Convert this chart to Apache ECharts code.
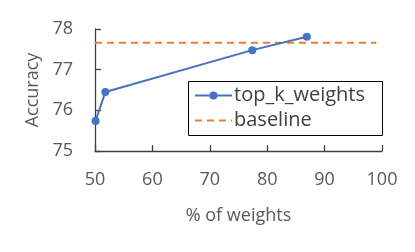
<!DOCTYPE html>
<html><head><meta charset="utf-8">
<script src="https://cdn.jsdelivr.net/npm/echarts@6/dist/echarts.min.js"></script>
<style>html,body{margin:0;padding:0;background:#fff}#c{width:415px;height:252px}</style>
</head><body><div id="c"></div>
<script>
const xTicks = [50, 60, 70, 80, 90, 100];
const yTicks = [75, 76, 77, 78];
const topKX = [50.1, 51.8, 77.4, 86.9];
const topKY = [75.74, 76.45, 77.48, 77.81];
const baselineX = [50, 99];
const baselineValue = 77.66;

const font = 'Open Sans';
const chart = echarts.init(document.getElementById('c'), null, {renderer: 'canvas'});
chart.setOption({
  animation: false,
  grid: {left: 95, right: 33, top: 29, bottom: 101},
  graphic: [{
    type: 'rect', left: 188, top: 81, z: 10,
    shape: {width: 194, height: 54},
    style: {fill: '#fff', stroke: '#000', lineWidth: 1}
  }],
  xAxis: {
    type: 'value', min: xTicks[0], max: xTicks[xTicks.length-1], interval: 10,
    name: '% of weights', nameLocation: 'middle', nameGap: 56,
    nameTextStyle: {fontFamily: font, fontSize: 18, color: '#595959'},
    axisLine: {show: true, lineStyle: {color: '#404040', width: 1.3}},
    axisTick: {show: true, inside: true, length: 6, lineStyle: {color: '#404040', width: 1.3}},
    axisLabel: {fontFamily: font, fontSize: 18, color: '#595959', margin: 20},
    splitLine: {show: false}
  },
  yAxis: {
    type: 'value', min: yTicks[0], max: yTicks[yTicks.length-1], interval: 1,
    name: 'Accuracy', nameLocation: 'middle', nameGap: 53, nameRotate: 90,
    nameTextStyle: {fontFamily: font, fontSize: 18, color: '#595959'},
    axisLine: {show: true, lineStyle: {color: '#404040', width: 1.3}},
    axisTick: {show: true, inside: true, length: 6, lineStyle: {color: '#404040', width: 1.3}},
    axisLabel: {fontFamily: font, fontSize: 18, color: '#595959', margin: 22},
    splitLine: {show: false}
  },
  legend: {
    left: 190, top: 85, orient: 'vertical', z: 11,
    padding: [0, 0, 0, 4], itemGap: 4, itemWidth: 37, itemHeight: 10,
    textStyle: {fontFamily: font, fontSize: 20, color: '#404040', padding: [0,0,0,-3], lineHeight: 21},
    data: [
      {name: 'top_k_weights', itemStyle: {borderWidth: 0}},
      {name: 'baseline', itemStyle: {opacity: 0}}
    ]
  },
  series: [
    {
      name: 'top_k_weights', type: 'line',
      data: topKX.map((x, i) => [x, topKY[i]]),
      symbol: 'circle', symbolSize: 8,
      lineStyle: {color: '#4472C4', width: 2},
      itemStyle: {color: '#4472C4'}, z: 3
    },
    {
      name: 'baseline', type: 'line',
      data: baselineX.map(x => [x, baselineValue]),
      symbol: 'none',
      lineStyle: {color: '#ED7D31', width: 2, type: [7, 5]},
      itemStyle: {color: '#ED7D31'}, z: 2
    }
  ]
});
</script></body></html>
